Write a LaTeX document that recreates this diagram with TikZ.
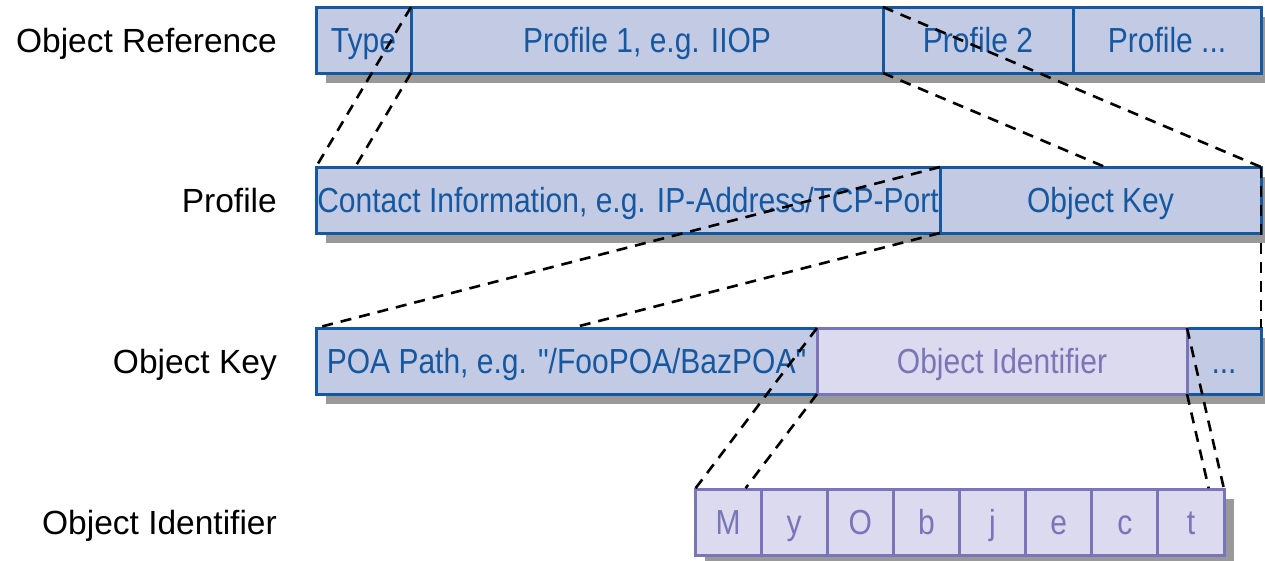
\documentclass[tikz,border=0pt]{standalone}
\usepackage{fontspec}
\newfontfamily\diagfont{Liberation Sans}
\usepackage{graphicx}
\usetikzlibrary{positioning,calc,backgrounds}

\definecolor{cellblue}{RGB}{195,202,227}
\definecolor{lineblue}{RGB}{22,88,160}
\definecolor{cellpurple}{RGB}{220,218,238}
\definecolor{linepurple}{RGB}{122,116,184}
\definecolor{shadowgray}{RGB}{153,153,153}

\newcommand{\celltext}[1]{\scalebox{1}[1.16]{#1}}

\tikzset{
	cell/.style={draw=lineblue, fill=cellblue, text=lineblue, line width=3pt,
		minimum height=66pt, inner sep=0pt, outer sep=0pt,
		text height=25pt, text depth=0pt, font=\diagfont\fontsize{30}{30}\selectfont},
	idcell/.style={cell, draw=linepurple, fill=cellpurple, text=linepurple},
	rowlabel/.style={anchor=east, inner sep=0pt, text height=24pt, text depth=0pt,
		font=\diagfont\fontsize{33.5}{33.5}\selectfont},
	link/.style={dash pattern=on 11pt off 8pt, line width=2.6pt},
	rowshadow/.style={fill=shadowgray}
}

\begin{document}
\begin{tikzpicture}[x=1pt,y=-1pt]
		\useasboundingbox (0,0) rectangle (1265,560);
		
		% Row labels
		\node[rowlabel] (lref) at (277,40) {Object Reference};
		\node[rowlabel] (lprof) at (277,200) {Profile};
		\node[rowlabel] (lkey) at (277,361) {Object Key};
		\node[rowlabel] (lid) at (277,522) {Object Identifier};
		
		% Object Reference
		\node[cell, minimum width=95pt] (type) at (363.5,40) {\celltext{Type}};
		\node[cell, minimum width=472pt, right=0pt of type] (prof1) {\celltext{Profile 1, e.g. IIOP}};
		\node[cell, minimum width=190pt, right=0pt of prof1] (prof2) {\celltext{Profile 2}};
		\node[cell, minimum width=188pt, right=0pt of prof2] (profn) {\celltext{Profile ...}};
		
		% Profile
		\node[cell, minimum width=624pt] (cinfo) at (628,200) {\celltext{Contact Information, e.g. IP-Address/TCP-Port}};
		\node[cell, minimum width=321pt, right=0pt of cinfo] (okey) {\celltext{Object Key}};
		
		% Object Key
		\node[cell, minimum width=501pt] (poa) at (566.5,361) {\celltext{POA Path, e.g. "/FooPOA/BazPOA"}};
		\node[cell, minimum width=74pt] (keyn) at (1224,361) {\celltext{...}};
		\node[idcell, minimum width=370pt, right=0pt of poa] (oid) {\celltext{Object Identifier}};
		
		% Object Identifier
		\foreach \ch [count=\i] in {M,y,O,b,j,e,c,t}
			\node[idcell, minimum width=66.125pt] (c\i) at ({695+66.125*(\i-0.5)},522) {\celltext{\ch}};
		
		% Draw shadows
		\begin{scope}[on background layer]
		\fill[rowshadow] ($(type.north west)+(10,10)$) rectangle ($(profn.south east)+(10,10)$);
		\fill[rowshadow] ($(cinfo.north west)+(10,10)$) rectangle ($(okey.south east)+(10,10)$);
		\fill[rowshadow] ($(poa.north west)+(10,10)$) rectangle ($(keyn.south east)+(10,10)$);
		\fill[rowshadow] ($(c1.north west)+(10,10)$) rectangle ($(c8.south east)+(10,10)$);
		\end{scope}
		
		% Draw expansion lines
		\coordinate (b1) at ($(type.south east)+0.585*(cinfo.north west)-0.585*(type.north east)$);
		\coordinate (b2) at ($(prof2.south west)+0.585*(okey.north east)-0.585*(prof2.north west)$);
		\coordinate (b3) at ($(cinfo.south east)+0.585*(poa.north west)-0.585*(cinfo.north east)$);
		\coordinate (b4) at ($(poa.south east)+0.585*(c1.north west)-0.585*(poa.north east)$);
		\coordinate (b5) at ($(oid.south east)+0.585*(c8.north east)-0.585*(oid.north east)$);
		
		\draw[link] (type.north east) -- (cinfo.north west);
		\draw[link] (type.south east) -- (b1);
		\draw[link] (prof2.north west) -- (okey.north east);
		\draw[link] (prof2.south west) -- (b2);
		\draw[link] (cinfo.north east) -- (poa.north west);
		\draw[link] (cinfo.south east) -- (b3);
		\draw[link] (okey.north east) -- (keyn.north east);
		\draw[link] (poa.north east) -- (c1.north west);
		\draw[link] (poa.south east) -- (b4);
		\draw[link] (oid.north east) -- (c8.north east);
		\draw[link] (oid.south east) -- (b5);
		
\end{tikzpicture}
\end{document}
